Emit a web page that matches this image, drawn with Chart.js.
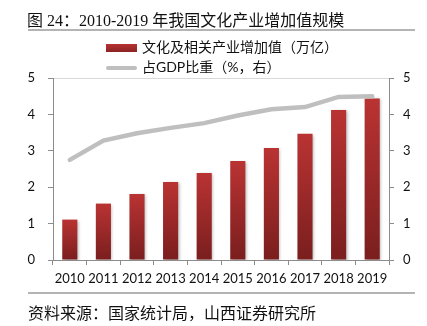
<!DOCTYPE html>
<html>
<head>
<meta charset="utf-8">
<script src="https://cdn.jsdelivr.net/npm/chart.js@4"></script>
<style>
  body { margin: 0; background: #fff; }
  #wrap { position: relative; width: 427px; height: 326px; overflow: hidden; font-family: Lato, "Noto Sans CJK SC", sans-serif; color: #111; }
  #chart { position: absolute; left: 0; top: 0; }
  .title { position: absolute; left: 27px; top: 7px; font-size: 16px; font-family: "Liberation Serif", "Noto Sans CJK SC", serif; white-space: nowrap; }
  .rule { position: absolute; left: 28px; width: 387px; height: 2px; background: #b4b4b4; }
  .legend { position: absolute; left: 106px; font-size: 14px; white-space: nowrap; line-height: 16px; }
  .legend span.sw { display: inline-block; width: 31px; vertical-align: middle; margin-right: 5px; }
  .source { position: absolute; left: 28px; top: 300px; font-size: 16px; font-family: "Noto Sans CJK SC", sans-serif; white-space: nowrap; }
</style>
</head>
<body>
<div id="wrap">
  <canvas id="chart" width="427" height="326"></canvas>
  <div class="title">图 24：2010-2019 年我国文化产业增加值规模</div>
  <div class="rule" style="top:29px"></div>
  <div class="legend" style="top:39px"><span class="sw" style="height:8px;background:linear-gradient(#b83232,#8a2424)"></span>文化及相关产业增加值（万亿）</div>
  <div class="legend" style="top:59px"><span class="sw" style="height:4px;border-radius:2px;background:#bfbfbf"></span>占GDP比重（%，右）</div>
  <div class="rule" style="top:292px;height:1.5px"></div>
  <div class="source">资料来源：国家统计局，山西证券研究所</div>
</div>
<script>
const years = ["2010", "2011", "2012", "2013", "2014", "2015", "2016", "2017", "2018", "2019"];
const addedValue = [1.11, 1.55, 1.81, 2.14, 2.39, 2.72, 3.08, 3.47, 4.12, 4.44]; // 万亿
const gdpShare = [2.75, 3.28, 3.48, 3.63, 3.76, 3.97, 4.14, 4.2, 4.48, 4.5];     // %
const axisTicks = [0, 1, 2, 3, 4, 5];

const axisGray = "#8c8c8c";
const tickFont = { family: "Lato", size: 13 };

// each bar fades from bright red at its top to dark red at the base
function barFill(c) {
  const chart = c.chart;
  if (!chart.chartArea || c.dataIndex === undefined) return "#a02a2a";
  const ys = chart.scales.y;
  const top = ys.getPixelForValue(addedValue[c.dataIndex]);
  const bottom = ys.getPixelForValue(0);
  const g = chart.ctx.createLinearGradient(0, top, 0, bottom);
  g.addColorStop(0, "#ba3333");
  g.addColorStop(1, "#7a1e1e");
  return g;
}

// soft drop shadow behind the bars only
const barShadow = {
  id: "barShadow",
  beforeDatasetDraw(chart, args) {
    if (args.index !== 0) return;
    const ctx = chart.ctx;
    ctx.save();
    ctx.shadowColor = "rgba(0,0,0,0.28)";
    ctx.shadowBlur = 3;
    ctx.shadowOffsetX = 1.5;
    ctx.shadowOffsetY = 1;
  },
  afterDatasetDraw(chart, args) {
    if (args.index === 0) chart.ctx.restore();
  }
};

new Chart(document.getElementById("chart").getContext("2d"), {
  type: "bar",
  data: {
    labels: years,
    datasets: [
      {
        label: "文化及相关产业增加值（万亿）",
        data: addedValue,
        backgroundColor: barFill,
        categoryPercentage: 1,
        barPercentage: 0.45,
        yAxisID: "y",
        order: 2
      },
      {
        type: "line",
        label: "占GDP比重（%，右）",
        data: gdpShare,
        borderColor: "#bfbfbf",
        borderWidth: 4.5,
        borderCapStyle: "round",
        pointRadius: 0,
        tension: 0,
        yAxisID: "y2",
        order: 1
      }
    ]
  },
  options: {
    responsive: false,
    animation: false,
    layout: { padding: { top: 78, left: 0, right: 0, bottom: 0 } },
    plugins: { legend: { display: false }, tooltip: { enabled: false } },
    scales: {
      x: {
        offset: true,
        grid: { offset: true, drawOnChartArea: false, tickColor: axisGray, tickLength: 5 },
        border: { color: axisGray },
        ticks: { color: "#111", font: tickFont, padding: 6, maxRotation: 0 },
        afterFit(s) { s.height = 66; }
      },
      y: {
        position: "left",
        min: 0,
        max: 5,
        afterBuildTicks(s) { s.ticks = axisTicks.map(v => ({ value: v })); },
        grid: {
          color: c => (c.tick && c.tick.value === 5 ? "#d9d9d9" : "rgba(0,0,0,0)"),
          tickColor: axisGray,
          tickLength: 5
        },
        border: { color: axisGray },
        ticks: { color: "#111", font: tickFont, padding: 13 },
        afterFit(s) { s.width = 53; }
      },
      y2: {
        position: "right",
        min: 0,
        max: 5,
        afterBuildTicks(s) { s.ticks = axisTicks.map(v => ({ value: v })); },
        grid: { drawOnChartArea: false, tickColor: axisGray, tickLength: 5 },
        border: { color: axisGray },
        ticks: { color: "#111", font: tickFont, padding: 9 },
        afterFit(s) { s.width = 38; }
      }
    }
  },
  plugins: [barShadow]
});
</script>
</body>
</html>
